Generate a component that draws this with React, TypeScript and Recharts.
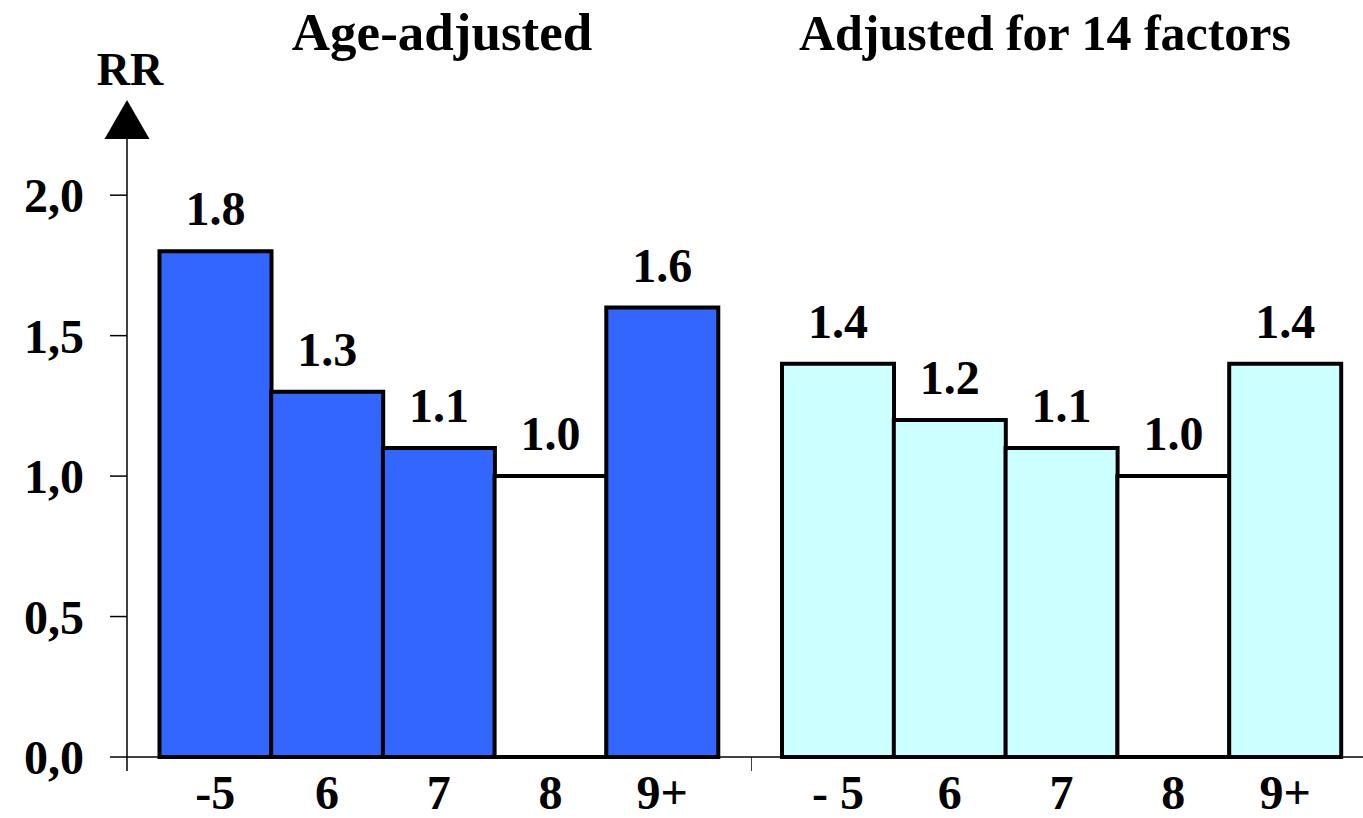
import React from 'react';
import { BarChart, Bar, XAxis, YAxis, Cell, LabelList } from 'recharts';

const categoriesAge = ['-5', '6', '7', '8', '9+'];
const categoriesAdj = ['- 5', '6', '7', '8', '9+'];
const ageAdjustedRR = [1.8, 1.3, 1.1, 1.0, 1.6];
const adjusted14RR = [1.4, 1.2, 1.1, 1.0, 1.4];
const referenceCategory = '8';
const yTicks = [0, 0.5, 1.0, 1.5, 2.0];
const yDomain = [0, 2.2];
const titles = ['Age-adjusted', 'Adjusted for 14 factors'];
const yAxisTitle = 'RR';

const FONT = '"Times New Roman", "Liberation Serif", serif';
const BLUE = '#3366FF';
const CYAN = '#CCFFFF';

const dataAge = categoriesAge.map((c, i) => ({ cat: c, rr: ageAdjustedRR[i] }));
const dataAdj = categoriesAdj.map((c, i) => ({ cat: c, rr: adjusted14RR[i] }));

const tickStyle = { fontFamily: FONT, fontWeight: 'bold', fontSize: 48, fill: '#000' };

const YArrow = (props: any) => {
  const vb = props.viewBox || {};
  const ax = (vb.x ?? 0) + (vb.width ?? 127);
  const top = vb.y ?? 139;
  return (
    <g>
      <polygon points={`${ax},${top - 39} ${ax - 22.5},${top} ${ax + 22.5},${top}`} fill="#000" />
      <text x={ax + 3} y={top - 54} textAnchor="middle" style={{ fontFamily: FONT, fontWeight: 'bold', fontSize: 46 }} fill="#000">
        {yAxisTitle}
      </text>
    </g>
  );
};

const XTicksExtra = (props: any) => {
  const vb = props.viewBox || {};
  const x = vb.x ?? 0;
  const y = vb.y ?? 757;
  const w = vb.width ?? 0;
  return (
    <g>
      <line x1={x} y1={y} x2={x} y2={y + 14} stroke="#000" strokeWidth={1.5} />
      <line x1={x + w} y1={y} x2={x + w} y2={y + 14} stroke="#000" strokeWidth={1.5} />
    </g>
  );
};

const fmtLabel = (v: any) => Number(v).toFixed(1);
const fmtY = (v: any) => Number(v).toFixed(1).replace('.', ',');

export default function App() {
  return (
    <div style={{ position: 'absolute', left: 0, top: 0, width: 1363, height: 818, background: '#fff' }}>
      <div style={{ position: 'absolute', left: 0, top: 0 }}>
        <BarChart width={752} height={818} data={dataAge} margin={{ top: 139, right: 0, bottom: 0, left: 0 }} barCategoryGap={0} barGap={0}>
          <YAxis
            type="number"
            domain={yDomain}
            ticks={yTicks}
            width={127}
            tickSize={17}
            tickMargin={26}
            tickFormatter={fmtY}
            tick={tickStyle}
            axisLine={{ stroke: '#000', strokeWidth: 1.5 }}
            tickLine={{ stroke: '#000', strokeWidth: 1.5 }}
            interval={0}
            label={YArrow}
          />
          <XAxis
            dataKey="cat"
            height={61}
            padding={{ left: 32.5, right: 34 }}
            tickLine={false}
            tickSize={0}
            tickMargin={18}
            tick={tickStyle}
            axisLine={{ stroke: '#000', strokeWidth: 1.5 }}
            interval={0}
            label={XTicksExtra}
          />
          <Bar dataKey="rr" stroke="#000" strokeWidth={4} isAnimationActive={false}>
            {dataAge.map((d) => (
              <Cell key={d.cat} fill={d.cat === referenceCategory ? '#FFFFFF' : BLUE} />
            ))}
            <LabelList dataKey="rr" position="top" offset={26} formatter={fmtLabel} style={tickStyle} />
          </Bar>
        </BarChart>
      </div>
      <div style={{ position: 'absolute', left: 752, top: 0 }}>
        <BarChart width={611} height={818} data={dataAdj} margin={{ top: 139, right: 0, bottom: 0, left: 0 }} barCategoryGap={0} barGap={0}>
          <YAxis type="number" domain={yDomain} ticks={yTicks} hide width={0} />
          <XAxis
            dataKey="cat"
            height={61}
            padding={{ left: 30, right: 22 }}
            tickLine={false}
            tickSize={0}
            tickMargin={18}
            tick={tickStyle}
            axisLine={{ stroke: '#000', strokeWidth: 1.5 }}
            interval={0}
          />
          <Bar dataKey="rr" stroke="#000" strokeWidth={4} isAnimationActive={false}>
            {dataAdj.map((d) => (
              <Cell key={d.cat} fill={d.cat === referenceCategory ? '#FFFFFF' : CYAN} />
            ))}
            <LabelList dataKey="rr" position="top" offset={26} formatter={fmtLabel} style={tickStyle} />
          </Bar>
        </BarChart>
      </div>
      <svg width={1363} height={818} style={{ position: 'absolute', left: 0, top: 0, pointerEvents: 'none' }}>
        <text x={442} y={50} textAnchor="middle" style={{ fontFamily: FONT, fontWeight: 'bold', fontSize: 53 }} fill="#000">
          {titles[0]}
        </text>
        <text x={1045} y={50} textAnchor="middle" style={{ fontFamily: FONT, fontWeight: 'bold', fontSize: 50 }} fill="#000">
          {titles[1]}
        </text>
      </svg>
    </div>
  );
}
